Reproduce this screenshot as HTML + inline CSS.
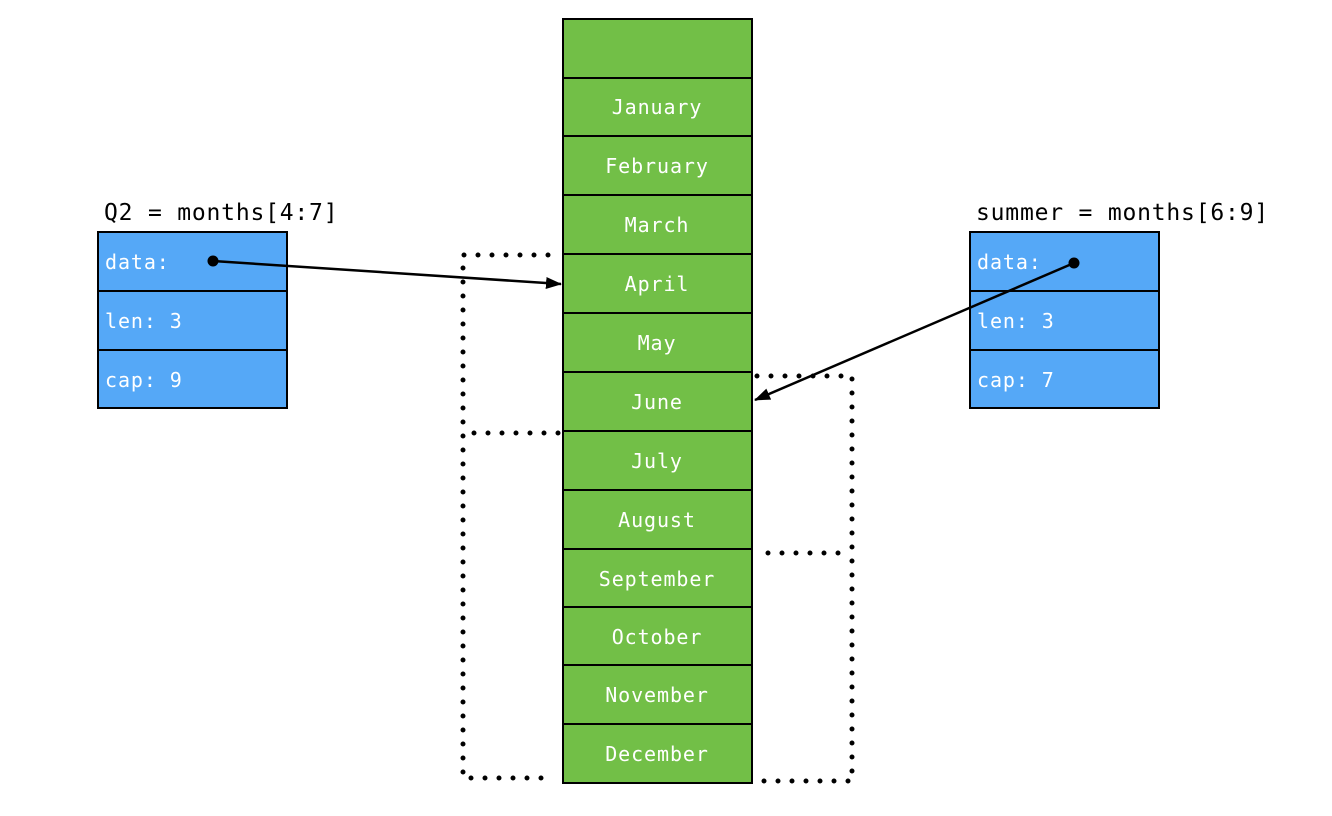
<!DOCTYPE html>
<html><head><meta charset="utf-8"><style>
html,body{margin:0;padding:0;background:#fff;}
svg{display:block;}
text{font-family:"DejaVu Sans Mono","Liberation Mono",monospace;}
</style></head><body>
<svg width="1332" height="816" viewBox="0 0 1332 816" xmlns="http://www.w3.org/2000/svg">
<defs>
<marker id="ah" markerWidth="16" markerHeight="12" refX="15" refY="6" orient="auto" markerUnits="userSpaceOnUse">
<path d="M0,0 L16,6 L0,12 z" fill="#000"/>
</marker>
</defs>
<g stroke="#000" stroke-width="2" fill="#72bf47">
<rect x="563" y="19" width="189" height="764"/>
</g>
<g stroke="#000" stroke-width="2">
<line x1="563" y1="78" x2="752" y2="78"/>
<line x1="563" y1="136" x2="752" y2="136"/>
<line x1="563" y1="195" x2="752" y2="195"/>
<line x1="563" y1="254" x2="752" y2="254"/>
<line x1="563" y1="313" x2="752" y2="313"/>
<line x1="563" y1="372" x2="752" y2="372"/>
<line x1="563" y1="431" x2="752" y2="431"/>
<line x1="563" y1="490" x2="752" y2="490"/>
<line x1="563" y1="549" x2="752" y2="549"/>
<line x1="563" y1="607" x2="752" y2="607"/>
<line x1="563" y1="665" x2="752" y2="665"/>
<line x1="563" y1="724" x2="752" y2="724"/>
</g>
<g fill="#fff" font-size="20" text-anchor="middle" letter-spacing="0.9">
<text x="657" y="114">January</text>
<text x="657" y="173">February</text>
<text x="657" y="232">March</text>
<text x="657" y="291">April</text>
<text x="657" y="350">May</text>
<text x="657" y="409">June</text>
<text x="657" y="468">July</text>
<text x="657" y="527">August</text>
<text x="657" y="586">September</text>
<text x="657" y="644">October</text>
<text x="657" y="702">November</text>
<text x="657" y="761">December</text>
</g>
<g stroke="#000" stroke-width="2" fill="#55a8f7">
<rect x="98" y="232" width="189" height="176"/>
<rect x="970" y="232" width="189" height="176"/>
</g>
<g stroke="#000" stroke-width="2">
<line x1="98" y1="291" x2="287" y2="291"/><line x1="98" y1="350" x2="287" y2="350"/>
<line x1="970" y1="291" x2="1159" y2="291"/><line x1="970" y1="350" x2="1159" y2="350"/>
</g>
<g fill="#fff" font-size="20" letter-spacing="0.9">
<text x="105" y="269">data:</text><text x="105" y="328">len: 3</text><text x="105" y="387">cap: 9</text>
<text x="977" y="269">data:</text><text x="977" y="328">len: 3</text><text x="977" y="387">cap: 7</text>
</g>
<g fill="#000" font-size="23" letter-spacing="0.8">
<text x="104" y="220">Q2 = months[4:7]</text>
<text x="976" y="220">summer = months[6:9]</text>
</g>
<g stroke="#000" stroke-width="5" stroke-linecap="round" stroke-dasharray="0 14" fill="none">
<path d="M548,255 L463,255 L463,778 L548,778"/>
<path d="M558,433 L463,433"/>
<path d="M757,376 L852,376 L852,781 L757,781"/>
<path d="M768,553 L852,553"/>
</g>
<g stroke="#000" stroke-width="2.5" fill="none">
<line x1="213" y1="261" x2="561" y2="284" marker-end="url(#ah)"/>
<line x1="1074" y1="263" x2="755" y2="400" marker-end="url(#ah)"/>
</g>
<circle cx="213" cy="261" r="5.5" fill="#000"/>
<circle cx="1074" cy="263" r="5.5" fill="#000"/>
</svg>
</body></html>
